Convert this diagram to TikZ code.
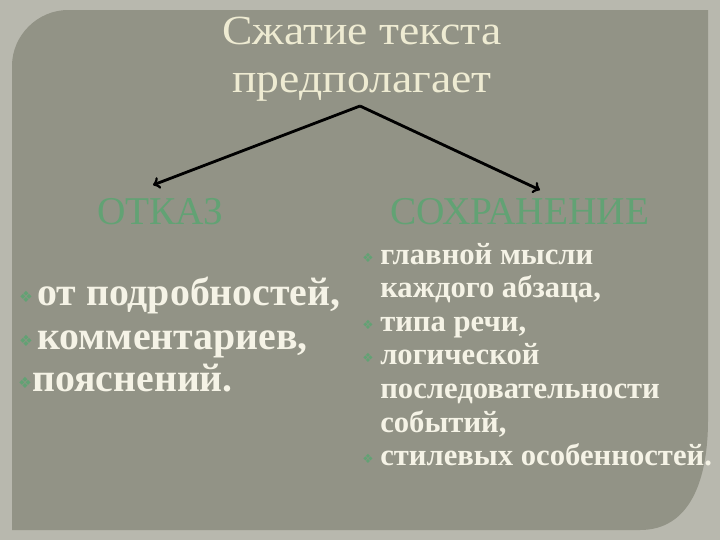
\documentclass[tikz,border=0pt]{standalone}
\usepackage{graphicx}
\usepackage{fontspec}
\setmainfont{Liberation Serif}
\newfontfamily\symfont{DejaVu Sans}

\definecolor{outerbg}{HTML}{B8B8AE}
\definecolor{panelbg}{HTML}{929386}
\definecolor{titlecol}{HTML}{EEEBD2}
\definecolor{headgreen}{HTML}{62A274}
\definecolor{itemcol}{HTML}{F5F3E6}

\newcommand{\titleline}[1]{\scalebox{1.1}[1]{#1}}

\tikzset{
	titletext/.style={anchor=base, inner sep=0pt, text=titlecol, font=\fontsize{29.5}{30}\selectfont},
	heading/.style={inner sep=0pt, text=headgreen, font=\fontsize{28}{30}\selectfont},
	bigitem/.style={anchor=base west, inner sep=0pt, text=itemcol, font=\bfseries\fontsize{28.3}{30}\selectfont},
	smallitem/.style={anchor=base west, inner sep=0pt, text=itemcol, font=\bfseries\fontsize{21.8}{24}\selectfont},
	bigbullet/.style={inner sep=0pt, text=headgreen, font=\symfont\fontsize{11}{11}\selectfont},
	smallbullet/.style={inner sep=0pt, text=headgreen, font=\symfont\fontsize{9}{9}\selectfont}
}

\begin{document}
\begin{tikzpicture}[x=0.025cm, y=-0.025cm]
		\useasboundingbox (0,0) rectangle (720,540);
		\fill [outerbg] (0,0) rectangle (720,540);
		% panel
		\fill [panelbg] (12,530) -- (12,66) .. controls (12,35) and (38,10) .. (68,10) -- (708,10) -- (708,420) .. controls (708,480) and (690,530) .. (640,530) -- cycle;
		\node [titletext] (title1) at (362,44) {\titleline{Сжатие  текста}};
		\node [titletext] (title2) at (362,92) {\titleline{предполагает}};
		\coordinate (apex) at (360,106);
		\coordinate (ltip) at (153,185);
		\coordinate (rtip) at (540,190);
		\draw [line width=2pt, ->] (apex) -- (ltip);
		\draw [line width=2pt, ->] (apex) -- (rtip);
		\node [heading] (otkaz) at (160,212) {ОТКАЗ};
		\node [heading] (sohr) at (520,212) {СОХРАНЕНИЕ};
		% left column
		\node [bigitem] (l1) at (37,305) {от подробностей,};
		\node [bigitem] (l2) at (37,349) {комментариев,};
		\node [bigitem] (l3) at (32,391) {пояснений.};
		\node [bigbullet] (b1) at (26,297) {❖};
		\node [bigbullet] (b2) at (26,341) {❖};
		\node [bigbullet] (b3) at (25,383) {❖};
		% right column
		\node [smallitem] (r1) at (380,264) {главной мысли};
		\node [smallitem] (r2) at (380,297) {каждого абзаца,};
		\node [smallitem] (r3) at (380,331) {типа речи,};
		\node [smallitem] (r4) at (380,364) {логической};
		\node [smallitem] (r5) at (380,398) {последовательности};
		\node [smallitem] (r6) at (380,432) {событий,};
		\node [smallitem] (r7) at (380,465) {стилевых особенностей.};
		\node [smallbullet] (c1) at (368,258) {❖};
		\node [smallbullet] (c3) at (368,325) {❖};
		\node [smallbullet] (c4) at (368,358) {❖};
		\node [smallbullet] (c7) at (368,459) {❖};
\end{tikzpicture}
\end{document}
